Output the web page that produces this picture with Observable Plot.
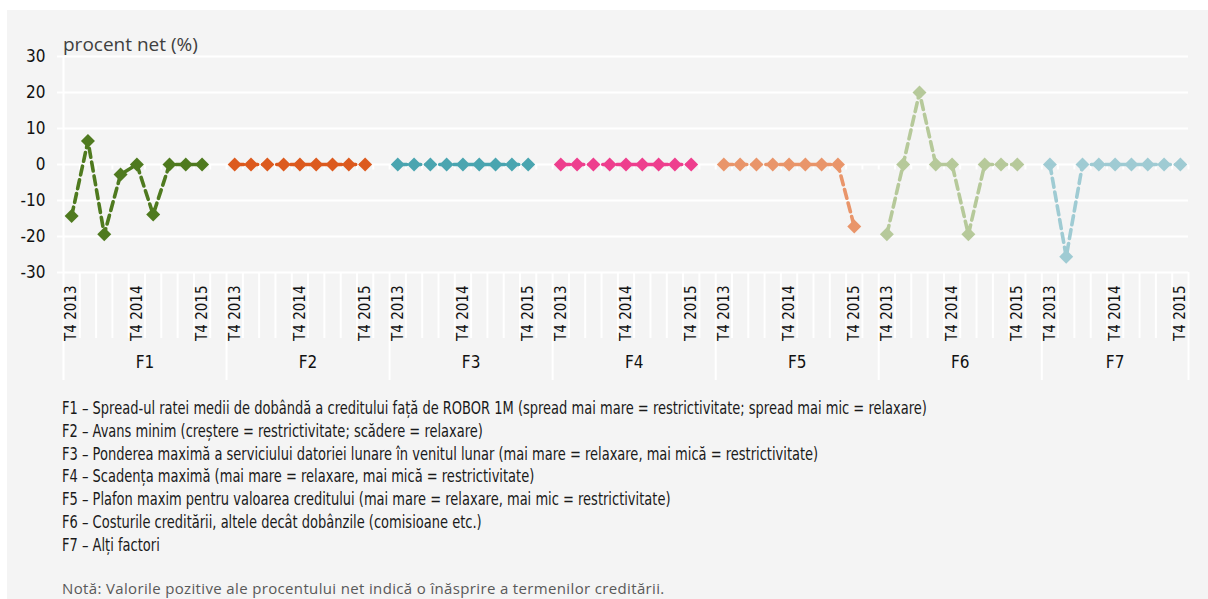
<!DOCTYPE html>
<html>
<head>
<meta charset="utf-8">
<script src="https://cdn.jsdelivr.net/npm/d3@7"></script>
<script src="https://cdn.jsdelivr.net/npm/@observablehq/plot@0.6"></script>
<style>
  html, body { margin: 0; padding: 0; background: #ffffff; }
  body { width: 1208px; height: 599px; overflow: hidden; position: relative; }
  #panel { position: absolute; left: 7px; top: 10px; width: 1201px; height: 589px; background: #f4f4f4; }
  #chart { position: absolute; left: 0; top: 0; }
  #ylab { position: absolute; left: 63px; top: 31px; font-family: "Open Sans", sans-serif; font-size: 19px; color: #404040; white-space: nowrap; }
  #legend { position: absolute; left: 62px; top: 397px; font-size: 17px; line-height: 22.8px; color: #1a1a1a; white-space: nowrap; transform: scaleX(0.852); transform-origin: 0 0; }
  #note { position: absolute; left: 62px; top: 578px; font-family: "Open Sans", sans-serif; font-size: 15px; letter-spacing: 0.35px; color: #595959; white-space: nowrap; }
</style>
</head>
<body>
<div id="panel"></div>
<div id="chart"></div>
<div id="ylab">procent net (%)</div>
<div id="legend"></div>
<div id="note"></div>
<script>
// ---------- data ----------
const factors = ["F1", "F2", "F3", "F4", "F5", "F6", "F7"];
const quarters = ["T4 2013", "T1 2014", "T2 2014", "T3 2014", "T4 2014", "T1 2015", "T2 2015", "T3 2015", "T4 2015"];
const tickLabels = ["T4 2013", "T4 2014", "T4 2015"];
const f1 = [-14.3, 6.5, -19.4, -2.8, 0, -13.9, 0, 0, 0];
const f2 = [0, 0, 0, 0, 0, 0, 0, 0, 0];
const f3 = [0, 0, 0, 0, 0, 0, 0, 0, 0];
const f4 = [0, 0, 0, 0, 0, 0, 0, 0, 0];
const f5 = [0, 0, 0, 0, 0, 0, 0, 0, -17.2];
const f6 = [-19.4, 0, 20, 0, 0, -19.4, 0, 0, 0];
const f7 = [0, -25.6, 0, 0, 0, 0, 0, 0, 0];
const seriesValues = [f1, f2, f3, f4, f5, f6, f7];
const colors = ["#4f7a1f", "#dc5a1e", "#4aa5b0", "#ee3f8e", "#e9956a", "#b6c99a", "#9fcbd3"];
const yTicks = [-30, -20, -10, 0, 10, 20, 30];
const legendTexts = [
  "F1 – Spread-ul ratei medii de dobândă a creditului față de ROBOR 1M (spread mai mare = restrictivitate; spread mai mic = relaxare)",
  "F2 – Avans minim (creștere = restrictivitate; scădere = relaxare)",
  "F3 – Ponderea maximă a serviciului datoriei lunare în venitul lunar (mai mare = relaxare, mai mică = restrictivitate)",
  "F4 – Scadența maximă (mai mare = relaxare, mai mică = restrictivitate)",
  "F5 – Plafon maxim pentru valoarea creditului (mai mare = relaxare, mai mic = restrictivitate)",
  "F6 – Costurile creditării, altele decât dobânzile (comisioane etc.)",
  "F7 – Alți factori"
];
const noteText = "Notă: Valorile pozitive ale procentului net indică o înăsprire a termenilor creditării.";

// ---------- font detection ----------
function hasFont(name) {
  const ctx = document.createElement("canvas").getContext("2d");
  const s = "abcdefghijklmnopqrstuvwxyz0123456789ABCDEF";
  ctx.font = "40px monospace";
  const a = ctx.measureText(s).width;
  ctx.font = `40px "${name}", monospace`;
  return ctx.measureText(s).width !== a;
}
const cond = ["Liberation Sans Narrow", "DejaVu Sans Condensed", "Roboto Condensed"].find(hasFont) || "Roboto";

// ---------- layout of the category axis (9 quarters + 1 empty slot per group) ----------
const perGroup = quarters.length + 1;
const nSlots = factors.length * perGroup - 1;
const rows = factors.flatMap((f, g) => seriesValues[g].map((v, i) => ({factor: f, quarter: quarters[i], value: v, slot: g * perGroup + i + 0.5})));
const labelRows = rows.filter(d => tickLabels.includes(d.quarter));
const groupRows = factors.map((f, g) => ({factor: f, center: g * perGroup + (g === factors.length - 1 ? quarters.length : perGroup) / 2}));
const groupBounds = factors.map((f, g) => g * perGroup).concat([nSlots]);
const catBounds = d3.range(1, nSlots).filter(b => !groupBounds.includes(b));
const allBounds = d3.range(0, nSlots + 1);

const zeroTick = { draw(ctx) { ctx.moveTo(0, 0); ctx.lineTo(0, 5); } };

const chart = Plot.plot({
  width: 1208,
  height: 400,
  marginLeft: 63,
  marginRight: 20,
  marginTop: 56,
  marginBottom: 128,
  style: { background: "transparent", fontFamily: cond, fontSize: "17px", color: "#111" },
  x: { domain: [0, nSlots], axis: null },
  y: { domain: [-30, 30], axis: null },
  color: { domain: factors, range: colors },
  marks: [
    Plot.gridY(yTicks, { stroke: "white", strokeOpacity: 1, strokeWidth: 2 }),
    Plot.axisY(yTicks, { tickSize: 6, tickPadding: 12, stroke: "white", strokeWidth: 2, fill: "#111", fontSize: 17, tickFormat: d => String(d), label: null }),
    Plot.ruleX(catBounds, { stroke: "white", strokeWidth: 2, insetTop: 216, insetBottom: -66 }),
    Plot.ruleX(groupBounds.slice(1), { stroke: "white", strokeWidth: 2, insetTop: 216, insetBottom: -108 }),
    Plot.ruleX(groupBounds.slice(0, 1), { stroke: "white", strokeWidth: 2, insetTop: 0, insetBottom: -108 }),
    Plot.dot(allBounds, { x: d => d, y: () => 0, symbol: zeroTick, r: 3, stroke: "white", strokeWidth: 2, fill: "none" }),
    Plot.line(rows, { x: "slot", y: "value", z: "factor", stroke: "factor", strokeWidth: 3.6, strokeDasharray: "9,5" }),
    Plot.dot(rows, { x: "slot", y: "value", fill: "factor", symbol: "diamond2", r: 6.3 }),
    Plot.text(labelRows, { x: "slot", text: "quarter", frameAnchor: "bottom", rotate: -90, textAnchor: "end", lineAnchor: "middle", dy: 13, fontSize: 15, fill: "#111" }),
    Plot.text(groupRows, { x: "center", text: "factor", frameAnchor: "bottom", dy: 95, fontSize: 17, fill: "#111" })
  ]
});
document.getElementById("chart").appendChild(chart);

const legend = document.getElementById("legend");
legend.style.fontFamily = `"${cond}", sans-serif`;
legendTexts.forEach(t => { const d = document.createElement("div"); d.textContent = t; legend.appendChild(d); });
document.getElementById("note").textContent = noteText;
</script>
</body>
</html>
